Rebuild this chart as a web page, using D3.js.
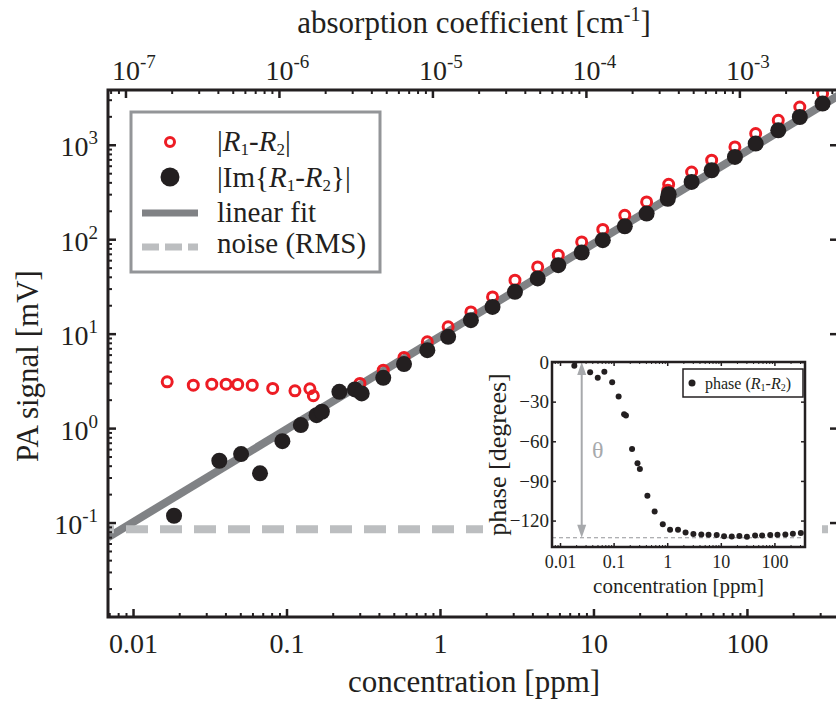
<!DOCTYPE html>
<html>
<head>
<meta charset="utf-8">
<script src="https://cdn.jsdelivr.net/npm/d3@7"></script>
<style>
  body { margin: 0; background: #fff; }
  svg { display: block; }
  svg text { font-family: "Liberation Serif", "Times New Roman", "DejaVu Serif", serif; }
</style>
</head>
<body>
<svg width="836" height="702" font-family="Liberation Serif, Times New Roman, serif"></svg>
<script>
// -----------------------------------------------------------------------------
// data
// -----------------------------------------------------------------------------
// |R1-R2| (open red circles)
const redConc = [0.0167, 0.0247, 0.0326, 0.0404, 0.0481, 0.0598, 0.0813, 0.1135, 0.142, 0.1496, 0.301,
  0.427, 0.583, 0.827, 1.13, 1.59, 2.2, 3.08, 4.33, 5.9, 8.38, 11.5, 16.0, 22.2, 30.5, 30.9,
  43.6, 58.9, 83.5, 114, 160, 221, 311];
const redSignal = [3.09, 2.85, 2.92, 2.92, 2.9, 2.85, 2.63, 2.48, 2.61, 2.2, 2.97,
  4.11, 5.6, 8.19, 11.8, 17.0, 24.5, 36.8, 50.9, 67.7, 93.6, 127, 179, 248, 330, 382,
  515, 686, 948, 1315, 1816, 2512, 3481];

// |Im{R1-R2}| (black dots)
const blackConc = [0.0185, 0.0365, 0.0506, 0.0672, 0.094, 0.124, 0.157, 0.17, 0.221, 0.279, 0.309,
  0.427, 0.583, 0.827, 1.13, 1.59, 2.2, 3.08, 4.33, 5.9, 8.38, 11.5, 16.0, 22.2, 30.5, 30.9,
  43.6, 58.9, 83.5, 114, 160, 221, 311];
const blackSignal = [0.118, 0.451, 0.531, 0.332, 0.728, 1.076, 1.37, 1.49, 2.42, 2.57, 2.33,
  3.41, 4.76, 6.69, 9.25, 13.9, 19.2, 27.7, 38.4, 53.1, 72.3, 97.6, 137, 187, 268, 300,
  404, 537, 743, 1030, 1423, 1968, 2729];

// linear fit end points and noise level
const fitConc = [0.00687, 392];
const fitSignal = [0.0697, 3300];
const noiseLevel = 0.085;

// inset: phase of R1-R2
const phaseConc = [0.0185, 0.0365, 0.0506, 0.0672, 0.094, 0.124, 0.157, 0.17, 0.221, 0.279, 0.309,
  0.427, 0.583, 0.827, 1.13, 1.59, 2.2, 3.08, 4.33, 5.9, 8.38, 11.5, 16.0, 22.2, 30.7,
  43.6, 58.9, 83.5, 114, 160, 221, 311];
const phaseDeg = [-2.8, -7.8, -11.9, -7.3, -15.4, -26.2, -39.5, -40.5, -65.8, -76.6, -80.9,
  -101.3, -113.2, -122.7, -127.0, -127.0, -129.1, -130.2, -130.6, -130.7, -131.0, -131.8, -132.0,
  -131.6, -132.3, -131.3, -131.3, -131.0, -130.8, -130.5, -130.0, -129.4];
const phaseFinal = -133;
const thetaConc = 0.0254;

// ticks
const concTicks = [0.01, 0.1, 1, 10, 100];
const concTickLabels = ["0.01", "0.1", "1", "10", "100"];
const signalExp = [-1, 0, 1, 2, 3];
const alphaExp = [-7, -6, -5, -4, -3];
const phaseTicks = [-120, -90, -60, -30, 0];
const ALPHA_PER_PPM = 1.12e-5; // cm^-1 per ppm (top axis)

// labels
const legendLabels = [
  [["|", ""], ["R", "i"], ["1", "sub"], ["-", ""], ["R", "i"], ["2", "sub"], ["|", ""]],
  [["|Im{", ""], ["R", "i"], ["1", "sub"], ["-", ""], ["R", "i"], ["2", "sub"], ["}|", ""]],
  [["linear fit", ""]],
  [["noise (RMS)", ""]]
];
const insetLegend = [["phase (", ""], ["R", "i"], ["1", "sub"], ["-", ""], ["R", "i"], ["2", "sub"], [")", ""]];

// -----------------------------------------------------------------------------
const INK = "#231f20";
const RED = "#ed1c24";
const FIT = "#808285";
const NOISE = "#bcbec0";

const svg = d3.select("svg");

const x = d3.scaleLog().domain([0.00687, 392]).range([108, 838]);
const y = d3.scaleLog().domain([0.01, 3800]).range([617, 90]);
const alpha = d3.scaleLog().domain(x.domain().map((c) => c * ALPHA_PER_PPM)).range(x.range());

const isDecade = (v) => Math.abs(Math.log10(v) - Math.round(Math.log10(v))) < 1e-6;

function styleAxis(g, size, width) {
  g.attr("font-family", null).attr("font-size", size);
  g.select(".domain").remove();
  g.selectAll(".tick line").attr("stroke", INK).attr("stroke-width", width);
  g.selectAll(".tick text").attr("fill", INK);
}

function powerLabels(g, supSize, rise) {
  g.selectAll(".tick text").each(function (d) {
    const t = d3.select(this).text(null);
    t.append("tspan").text("10");
    t.append("tspan").attr("dy", -rise).attr("font-size", supSize).text(Math.round(Math.log10(d)));
  });
}

function rich(text, parts, subSize, drop) {
  let low = false;
  parts.forEach(([str, kind]) => {
    const s = text.append("tspan").text(str);
    if (kind === "i") s.attr("font-style", "italic");
    if (kind === "sub") {
      s.attr("font-size", subSize);
      if (!low) s.attr("dy", drop);
      low = true;
    } else if (low) {
      s.attr("dy", -drop);
      low = false;
    }
  });
}

// ===========================================================================
// main plot
// ===========================================================================
const [x0, x1] = x.range();
const [y0, y1] = y.range();

svg.append("clipPath").attr("id", "clip")
  .append("rect").attr("x", x0).attr("y", y1).attr("width", x1 - x0).attr("height", y0 - y1);

const plot = svg.append("g").attr("clip-path", "url(#clip)");

plot.append("path")
  .datum(fitConc.map((c, i) => [c, fitSignal[i]]))
  .attr("d", d3.line().x((d) => x(d[0])).y((d) => y(d[1])))
  .attr("stroke", FIT).attr("stroke-width", 8).attr("fill", "none");

plot.append("line")
  .attr("x1", x0).attr("x2", x1)
  .attr("y1", y(noiseLevel)).attr("y2", y(noiseLevel))
  .attr("stroke", NOISE).attr("stroke-width", 8)
  .attr("stroke-dasharray", "22,12").attr("stroke-dashoffset", 16);

plot.append("g").selectAll("circle")
  .data(redConc.map((c, i) => [c, redSignal[i]]))
  .enter().append("circle")
  .attr("cx", (d) => x(d[0])).attr("cy", (d) => y(d[1])).attr("r", 5)
  .attr("fill", "none").attr("stroke", RED).attr("stroke-width", 3);

plot.append("g").selectAll("circle")
  .data(blackConc.map((c, i) => [c, blackSignal[i]]))
  .enter().append("circle")
  .attr("cx", (d) => x(d[0])).attr("cy", (d) => y(d[1])).attr("r", 8)
  .attr("fill", INK);

// axes
const minorX = x.ticks().filter((v) => !isDecade(v));
const gxMinor = svg.append("g").attr("transform", `translate(0,${y0})`)
  .call(d3.axisBottom(x).tickValues(minorX).tickSize(-4).tickFormat(""));
styleAxis(gxMinor, 28, 2);
const gx = svg.append("g").attr("transform", `translate(0,${y0})`)
  .call(d3.axisBottom(x).tickValues(concTicks).tickSize(-8).tickPadding(16)
    .tickFormat((d, i) => concTickLabels[i]));
styleAxis(gx, 28, 2.5);

const minorA = alpha.ticks().filter((v) => !isDecade(v));
const gaMinor = svg.append("g").attr("transform", `translate(0,${y1})`)
  .call(d3.axisTop(alpha).tickValues(minorA).tickSize(-4).tickFormat(""));
styleAxis(gaMinor, 28, 2);
const ga = svg.append("g").attr("transform", `translate(0,${y1})`)
  .call(d3.axisTop(alpha).tickValues(alphaExp.map((e) => Math.pow(10, e))).tickSize(-8).tickPadding(10));
styleAxis(ga, 28, 2.5);
powerLabels(ga, 19, 12);
ga.selectAll(".tick text").attr("text-anchor", "start").attr("x", -14);

const minorY = y.ticks().filter((v) => !isDecade(v));
const gyMinor = svg.append("g").attr("transform", `translate(${x0},0)`)
  .call(d3.axisLeft(y).tickValues(minorY).tickSize(-4).tickFormat(""));
styleAxis(gyMinor, 28, 2);
const gy = svg.append("g").attr("transform", `translate(${x0},0)`)
  .call(d3.axisLeft(y).tickValues(signalExp.map((e) => Math.pow(10, e))).tickSize(-8).tickPadding(10));
styleAxis(gy, 28, 2.5);
powerLabels(gy, 19, 12);
gy.selectAll(".tick text").attr("dy", 11);

const gyRight = svg.append("g").attr("transform", `translate(${x1},0)`)
  .call(d3.axisRight(y).tickValues(signalExp.map((e) => Math.pow(10, e))).tickSize(-8).tickFormat(""));
styleAxis(gyRight, 28, 2.5);

svg.append("rect")
  .attr("x", x0).attr("y", y1).attr("width", x1 - x0).attr("height", y0 - y1)
  .attr("fill", "none").attr("stroke", INK).attr("stroke-width", 3);

// titles
const topTitle = svg.append("text").attr("x", 474).attr("y", 33)
  .attr("text-anchor", "middle").attr("font-size", 31).attr("fill", INK);
topTitle.append("tspan").text("absorption coefficient [cm");
topTitle.append("tspan").attr("dy", -12).attr("font-size", 20).text("-1");
topTitle.append("tspan").attr("dy", 12).text("]");

svg.append("text").attr("x", 474).attr("y", 692)
  .attr("text-anchor", "middle").attr("font-size", 31).attr("fill", INK)
  .text("concentration [ppm]");

svg.append("text").attr("transform", "translate(38,366) rotate(-90)")
  .attr("text-anchor", "middle").attr("font-size", 31).attr("fill", INK)
  .text("PA signal [mV]");

// legend
const legend = svg.append("g");
legend.append("rect").attr("x", 131).attr("y", 112).attr("width", 249).attr("height", 160)
  .attr("fill", "#fff").attr("stroke", "#939598").attr("stroke-width", 3);
const rowY = [142, 177, 213, 247];
legend.append("circle").attr("cx", 170).attr("cy", rowY[0]).attr("r", 4.5)
  .attr("fill", "none").attr("stroke", RED).attr("stroke-width", 3);
legend.append("circle").attr("cx", 170).attr("cy", rowY[1]).attr("r", 9.5).attr("fill", INK);
legend.append("line").attr("x1", 142).attr("x2", 198).attr("y1", rowY[2]).attr("y2", rowY[2])
  .attr("stroke", FIT).attr("stroke-width", 7);
legend.append("line").attr("x1", 142).attr("x2", 198).attr("y1", rowY[3]).attr("y2", rowY[3])
  .attr("stroke", NOISE).attr("stroke-width", 7).attr("stroke-dasharray", "17,6");
const rowBase = [151, 187, 222, 253];
legendLabels.forEach((parts, i) => {
  const t = legend.append("text").attr("x", 217).attr("y", rowBase[i])
    .attr("font-size", 29).attr("fill", INK);
  rich(t, parts, 17, 4);
});

// ===========================================================================
// inset
// ===========================================================================
const xi = d3.scaleLog().domain([0.00709, 372]).range([552, 805]);
const yi = d3.scaleLinear().domain([-140, 0]).range([547, 362]);
const [xi0, xi1] = xi.range();
const [yi0, yi1] = yi.range();

const inset = svg.append("g");
inset.append("rect").attr("x", 483).attr("y", 340).attr("width", 339).attr("height", 262).attr("fill", "#fff");

inset.append("line")
  .attr("x1", xi0).attr("x2", xi1).attr("y1", yi(phaseFinal)).attr("y2", yi(phaseFinal))
  .attr("stroke", "#939598").attr("stroke-width", 1).attr("stroke-dasharray", "4,3");

// theta arrow
const ax = xi(thetaConc);
const arrowTop = yi(0);
const arrowBot = yi(phaseFinal);
inset.append("line").attr("x1", ax).attr("x2", ax).attr("y1", arrowTop + 10).attr("y2", arrowBot - 10)
  .attr("stroke", "#a7a9ac").attr("stroke-width", 2);
inset.append("path")
  .attr("d", `M${ax},${arrowTop}L${ax - 4.5},${arrowTop + 13}L${ax + 4.5},${arrowTop + 13}Z`
    + `M${ax},${arrowBot}L${ax - 4.5},${arrowBot - 13}L${ax + 4.5},${arrowBot - 13}Z`)
  .attr("fill", "#a7a9ac");
inset.append("text").attr("x", ax + 16).attr("y", yi(-72.6))
  .attr("text-anchor", "middle").attr("font-size", 24).attr("fill", "#a7a9ac").text("θ");

inset.append("g").selectAll("circle")
  .data(phaseConc.map((c, i) => [c, phaseDeg[i]]))
  .enter().append("circle")
  .attr("cx", (d) => xi(d[0])).attr("cy", (d) => yi(d[1])).attr("r", 3)
  .attr("fill", INK);

const minorXi = xi.ticks().filter((v) => !isDecade(v));
[[d3.axisBottom, yi0], [d3.axisTop, yi1]].forEach(([axis, pos]) => {
  const gm = inset.append("g").attr("transform", `translate(0,${pos})`)
    .call(axis(xi).tickValues(minorXi).tickSize(-2).tickFormat(""));
  styleAxis(gm, 18, 1);
});
const gxi = inset.append("g").attr("transform", `translate(0,${yi0})`)
  .call(d3.axisBottom(xi).tickValues(concTicks).tickSize(-4).tickPadding(8)
    .tickFormat((d, i) => concTickLabels[i]));
styleAxis(gxi, 18, 1.5);
const gxiTop = inset.append("g").attr("transform", `translate(0,${yi1})`)
  .call(d3.axisTop(xi).tickValues(concTicks).tickSize(-4).tickFormat(""));
styleAxis(gxiTop, 18, 1.5);

const gyi = inset.append("g").attr("transform", `translate(${xi0},0)`)
  .call(d3.axisLeft(yi).tickValues(phaseTicks).tickSize(-4).tickPadding(3));
styleAxis(gyi, 19, 1.5);
const gyiRight = inset.append("g").attr("transform", `translate(${xi1},0)`)
  .call(d3.axisRight(yi).tickValues(phaseTicks).tickSize(-4).tickFormat(""));
styleAxis(gyiRight, 19, 1.5);

inset.append("rect")
  .attr("x", xi0).attr("y", yi1).attr("width", xi1 - xi0).attr("height", yi0 - yi1)
  .attr("fill", "none").attr("stroke", INK).attr("stroke-width", 2.5);

inset.append("text").attr("x", (xi0 + xi1) / 2).attr("y", 593)
  .attr("text-anchor", "middle").attr("font-size", 21).attr("fill", INK)
  .text("concentration [ppm]");
inset.append("text").attr("transform", `translate(506,${(yi0 + yi1) / 2}) rotate(-90)`)
  .attr("text-anchor", "middle").attr("font-size", 26).attr("fill", INK)
  .text("phase [degrees]");

// inset legend
inset.append("rect").attr("x", 683).attr("y", 369).attr("width", 120).attr("height", 28)
  .attr("fill", "#fff").attr("stroke", INK).attr("stroke-width", 1.5);
inset.append("circle").attr("cx", 692).attr("cy", 383).attr("r", 3.5).attr("fill", INK);
const il = inset.append("text").attr("x", 705).attr("y", 389).attr("font-size", 16).attr("fill", INK);
rich(il, insetLegend, 10, 2);
</script>
</body>
</html>
